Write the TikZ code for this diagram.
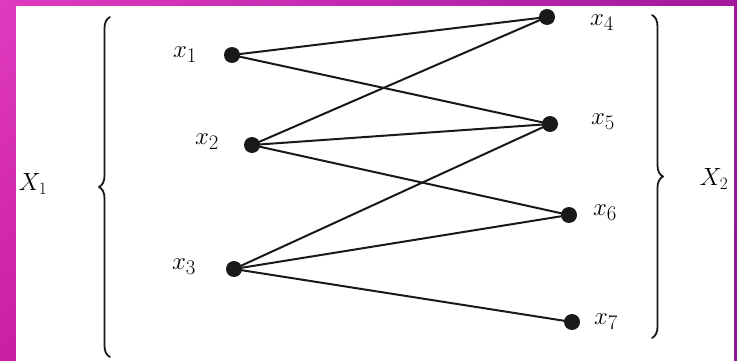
\documentclass[tikz,border=0pt]{standalone}
\usetikzlibrary{decorations.pathreplacing,shadings}
\definecolor{frameTL}{RGB}{224,58,192}
\definecolor{frameBL}{RGB}{200,32,160}
\definecolor{frameTR}{RGB}{162,24,156}
\definecolor{frameBR}{RGB}{140,20,148}
\definecolor{inkgray}{RGB}{25,25,25}
\tikzset{
  vert/.style={circle, fill=inkgray, inner sep=0pt, minimum size=16pt},
  lbl/.style={font=\fontsize{31}{34}\selectfont, inner sep=0pt},
  setlbl/.style={font=\fontsize{27}{30}\selectfont, inner sep=0pt},
  edge/.style={draw=inkgray, line width=2pt},
  setbrace/.style={draw=inkgray, line width=1.8pt, decorate,
    decoration={brace, amplitude=11pt}}
}
\begin{document}
\begin{tikzpicture}[x=1pt, y=-1pt, line join=round, line cap=round]
  \useasboundingbox (0,0) rectangle (737,361);
  % --- Khung nền ---
  \shade[upper left=frameTL, lower left=frameBL, upper right=frameTR, lower right=frameBR]
    (0,0) rectangle (737,361);
  \fill[white] (16,6) rectangle (734,361);
  % --- Các đỉnh ---
  \node[vert] (v1) at (232,55) {};
  \node[vert] (v2) at (252,145) {};
  \node[vert] (v3) at (234,269) {};
  \node[vert] (v4) at (547,17) {};
  \node[vert] (v5) at (550,124) {};
  \node[vert] (v6) at (569,215) {};
  \node[vert] (v7) at (572,322) {};
  % --- Nhãn ---
  \node[lbl] (l1) at (185,55) {$x_1$};
  \node[lbl] (l2) at (207,142) {$x_2$};
  \node[lbl] (l3) at (184,267) {$x_3$};
  \node[lbl] (l4) at (602,23) {$x_4$};
  \node[lbl] (l5) at (603,122) {$x_5$};
  \node[lbl] (l6) at (605,213) {$x_6$};
  \node[lbl] (l7) at (606,322) {$x_7$};
  % --- Các cạnh ---
  \foreach \a/\b in {1/4,1/5,2/4,2/5,2/6,3/5,3/6,3/7}
    \draw[edge] (v\a.center) -- (v\b.center);
  % --- Ngoặc ---
  \draw[setbrace] (110,357) -- (110,17) coordinate (b1);
  \draw[setbrace] (652,15) -- (652,338) coordinate (b2);
  \node[setlbl] (X1) at (33,184) {$X_1$};
  \node[setlbl] (X2) at (714,179) {$X_2$};
\end{tikzpicture}
\end{document}
